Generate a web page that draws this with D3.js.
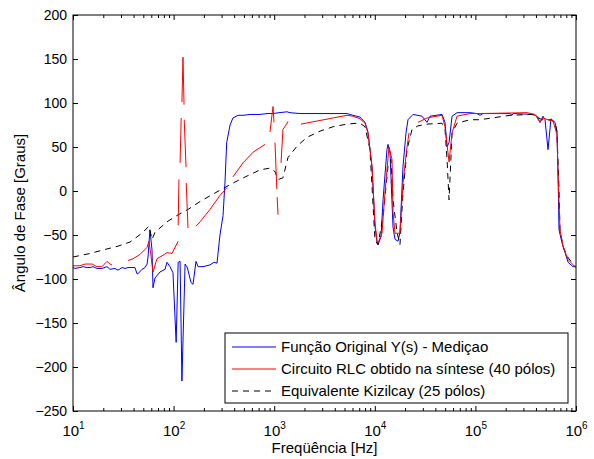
<!DOCTYPE html>
<html>
<head>
<meta charset="utf-8">
<script src="https://cdn.jsdelivr.net/npm/d3@7"></script>
<style>
  body { margin: 0; background: #fff; }
  svg { font-family: Arial, "Liberation Sans", sans-serif; }
</style>
</head>
<body>
<div id="container"></div>
<script>
// [frequency Hz, phase degrees]
let medicao = [
  [10, -87], [10.5, -88], [11.7, -87], [12.6, -86], [13.8, -87], [14.8, -87], [15.8, -86],
  [17.3, -88], [19.4, -88], [21.8, -86], [23.3, -89], [26.1, -88], [28, -90], [30.7, -87],
  [32.9, -88], [35.2, -87], [39.5, -87], [41.3, -87], [43.3, -94], [44.3, -94], [48.5, -89],
  [52, -87], [54.5, -83], [55.7, -75], [58.2, -44], [61, -67], [62.4, -110], [65.3, -99],
  [73.3, -92], [82.2, -89], [86, -81], [92.1, -86], [98.6, -93], [106, -172], [111, -81],
  [116, -80], [121, -216], [130, -83], [137, -87], [149, -104], [156, -106], [167, -80],
  [175, -86], [196, -86], [230, -84], [252, -81], [270, -82], [289, -50], [310, -28],
  [324, 9], [337, 55], [364, 75], [389, 83], [437, 86], [490, 86], [575, 87], [723, 87],
  [848, 88], [951, 88], [1340, 90], [1436, 89], [1803, 88], [5297, 88], [6067, 86],
  [7129, 84], [7998, 78], [8551, 67], [9376, 28], [10040, -40], [10510, -58], [10760, -61],
  [11530, -52], [12080, -10], [13210, 47], [13530, 53], [14160, 43], [15170, -41],
  [15890, -55], [17020, -57], [17790, -47], [19070, 28], [20430, 66], [21380, 81],
  [23990, 87], [29440, 85], [33040, 78], [35400, 85], [46560, 87], [49890, 78], [52240, 50],
  [54700, 55], [58610, 85], [65680, 89], [88360, 89], [103700, 88], [111200, 86],
  [119100, 88], [220800, 88], [231200, 86], [236600, 88], [374100, 87], [409400, 85],
  [438700, 78], [470000, 85], [492000, 81], [527200, 47], [564000, 82], [618000, 78],
  [647100, 68], [662200, 21], [677700, -44], [726100, -59], [778000, -70], [833700, -81],
  [933300, -86], [1000000, -86]
];

// null = gap in the synthesised curve
let circuitoRLC = [
  [10, -85], [11.7, -85], [13.2, -83], [15.5, -83], [17.3, -86], [19.4, -86], [21.8, -80],
  [23.3, -83], [24.4, -84], [24.5, null],
  [35.2, -79], [39.5, -77], [46.4, -72], [54.5, -64], [56.9, -57], [59.6, -74], [62.4, -92],
  [68.4, -77], [78.5, -73], [86, -70], [96.4, -71], [111, -57], [111.2, null],
  [111, -39], [113, 13], [114, null],
  [116, 32], [119, 83], [120, null],
  [121, 101], [124, 152], [127, 98], [127.2, null],
  [127.5, 81], [133, 27], [133.2, null],
  [133.5, 9], [139, -42], [140, null],
  [167, -40], [183, -35], [230, -21], [289, -5], [340, 4], [350, null],
  [389, 16], [490, 32], [616, 44], [811, 53], [820, null],
  [908, 67], [973, 96], [995, 78], [1000, null],
  [1019, 55], [1062, 2], [1064, null],
  [1070, -7], [1091, -27], [1100, null],
  [1169, 32], [1222, 70], [1309, 75], [1371, 79], [1400, null],
  [1845, 76], [3838, 83], [5297, 86], [6067, 85], [7129, 82], [7998, 77], [8551, 66],
  [9376, 28], [10040, -36], [10510, -56], [10760, -59], [11800, -48], [12620, -2],
  [13840, 50], [14830, 36], [15170, -24], [15890, -48], [17790, -48], [19070, 9],
  [20910, 50], [21880, 66], [22000, null],
  [26850, 78], [33040, 83], [46560, 86], [49890, 73], [54700, 33], [58610, 66],
  [65680, 85], [88360, 88], [111200, 88], [326000, 89], [391000, 87], [438700, 78],
  [470000, 83], [552100, 80], [590200, 80], [647100, 64], [662200, 21], [693400, -44],
  [743000, -63], [833700, -78], [977000, -86], [1000000, -86]
];

let kizilcay = [
  [10, -75], [14.8, -71], [19.9, -67], [27.4, -63], [36.9, -58], [49.7, -47], [54.5, -42],
  [56.9, -40], [61, -55], [65.3, -47], [86, -35], [111, -27], [139, -21], [183, -12],
  [270, -1], [389, 9], [537, 17], [723, 24], [908, 26], [1019, 22], [1091, 13], [1222, 15],
  [1371, 38], [1687, 51], [2118, 61], [2851, 68], [3838, 73], [5297, 76], [6653, 77],
  [7129, 77], [7998, 73], [8954, 47], [10040, -56], [10760, -61], [12080, -29], [13530, 28],
  [14490, 36], [15170, -10], [16630, -47], [17790, -61], [19070, -2], [20910, 47],
  [23440, 70], [26850, 74], [33040, 76], [46560, 77], [49890, 70], [52240, 36], [54700, -10],
  [58610, 66], [65680, 77], [88360, 81], [111200, 81], [220800, 86], [365600, 87],
  [459400, 81], [552100, 81], [618000, 78], [647100, 67], [677700, 2], [693400, -44],
  [743000, -63], [814700, -74], [977000, -86], [1000000, -86]
];

let yTicks = [-250, -200, -150, -100, -50, 0, 50, 100, 150, 200];
let xDecades = [1e1, 1e2, 1e3, 1e4, 1e5, 1e6];
let legendLabels = [
  "Função Original Y(s) - Mediçao",
  "Circuito RLC obtido na síntese (40 pólos)",
  "Equivalente Kizilcay (25 pólos)"
];

let w = 594;
let h = 459;
let xLeft = 73, xRight = 576, yTop = 15, yBottom = 411;

let viz = d3.select("#container")
  .append("svg")
    .attr("width", w)
    .attr("height", h)
;

let xScale = d3.scaleLog().domain([10, 1e6]).range([xLeft, xRight]);
let yScale = d3.scaleLinear().domain([-250, 200]).range([yBottom, yTop]);

// minor ticks 2..9 per decade
let minorTicks = [];
xDecades.slice(0, -1).forEach(function(d){
  for (let k = 2; k <= 9; k++) minorTicks.push(d * k);
});

function styleAxis(g){
  g.select(".domain").remove();
  g.selectAll("line").attr("stroke", "#000");
  g.selectAll("text").attr("fill", "#000").attr("font-size", "14px");
}

// x axis bottom (major + minor)
let xAxisGroup = viz.append("g").attr("class", "xaxis")
  .attr("transform", "translate(0, " + yBottom + ")")
  .call(d3.axisBottom(xScale).tickValues(xDecades).tickSize(-5).tickSizeOuter(0).tickPadding(8).tickFormat(""));
styleAxis(xAxisGroup);
xAxisGroup.selectAll(".tick text").each(function(d){
  let t = d3.select(this);
  t.attr("dy", "1.15em").attr("font-size", "15px");
  t.append("tspan").text("10");
  t.append("tspan").text(Math.round(Math.log10(d))).attr("font-size", "10px").attr("dy", "-0.75em");
});
let xMinor = viz.append("g")
  .attr("transform", "translate(0, " + yBottom + ")")
  .call(d3.axisBottom(xScale).tickValues(minorTicks).tickSize(-3).tickSizeOuter(0).tickFormat(""));
styleAxis(xMinor);

// x axis top
let xTop = viz.append("g")
  .attr("transform", "translate(0, " + yTop + ")")
  .call(d3.axisTop(xScale).tickValues(xDecades).tickSize(-5).tickSizeOuter(0).tickFormat(""));
styleAxis(xTop);
let xTopMinor = viz.append("g")
  .attr("transform", "translate(0, " + yTop + ")")
  .call(d3.axisTop(xScale).tickValues(minorTicks).tickSize(-3).tickSizeOuter(0).tickFormat(""));
styleAxis(xTopMinor);

// y axes
let yAxisGroup = viz.append("g").attr("class", "yaxis")
  .attr("transform", "translate(" + xLeft + ", 0)")
  .call(d3.axisLeft(yScale).tickValues(yTicks).tickSize(-5).tickSizeOuter(0).tickPadding(6));
styleAxis(yAxisGroup);
let yRight = viz.append("g")
  .attr("transform", "translate(" + xRight + ", 0)")
  .call(d3.axisRight(yScale).tickValues(yTicks).tickSize(-5).tickSizeOuter(0).tickFormat(""));
styleAxis(yRight);

// the curves
let line = d3.line()
  .defined(function(d){ return d[1] !== null; })
  .x(function(d){ return xScale(d[0]); })
  .y(function(d){ return yScale(d[1]); });

let vizGroup = viz.append("g").attr("class", "vizGroup");
vizGroup.append("path").datum(medicao)
  .attr("d", line).attr("fill", "none").attr("stroke", "#0000ff").attr("stroke-width", 1);
vizGroup.append("path").datum(kizilcay)
  .attr("d", line).attr("fill", "none").attr("stroke", "#000").attr("stroke-width", 1)
  .attr("stroke-dasharray", "6,5");
vizGroup.append("path").datum(circuitoRLC)
  .attr("d", line).attr("fill", "none").attr("stroke", "#ff0000").attr("stroke-width", 1);

// frame
viz.append("rect")
  .attr("x", xLeft).attr("y", yTop)
  .attr("width", xRight - xLeft).attr("height", yBottom - yTop)
  .attr("fill", "none").attr("stroke", "#000").attr("stroke-width", 1);

// legend
let legend = viz.append("g").attr("class", "legend");
legend.append("rect")
  .attr("x", 225).attr("y", 333).attr("width", 343).attr("height", 70)
  .attr("fill", "#fff").attr("stroke", "#000");
let legendColors = ["#0000ff", "#ff0000", "#000"];
let legendDash = [null, null, "6,5"];
legendLabels.forEach(function(label, i){
  let y = 347 + i * 22;
  legend.append("line")
    .attr("x1", 232).attr("x2", 276).attr("y1", y).attr("y2", y)
    .attr("stroke", legendColors[i]).attr("stroke-dasharray", legendDash[i]);
  legend.append("text")
    .attr("x", 281).attr("y", y + 5)
    .attr("font-size", "15px")
    .text(label);
});

// axis titles
viz.append("text")
  .attr("x", (xLeft + xRight) / 2).attr("y", 453)
  .attr("text-anchor", "middle").attr("font-size", "15px")
  .text("Freqüência [Hz]");
viz.append("text")
  .attr("transform", "translate(25, " + ((yTop + yBottom) / 2) + ") rotate(-90)")
  .attr("text-anchor", "middle").attr("font-size", "15px")
  .text("Ângulo de Fase [Graus]");
</script>
</body>
</html>
